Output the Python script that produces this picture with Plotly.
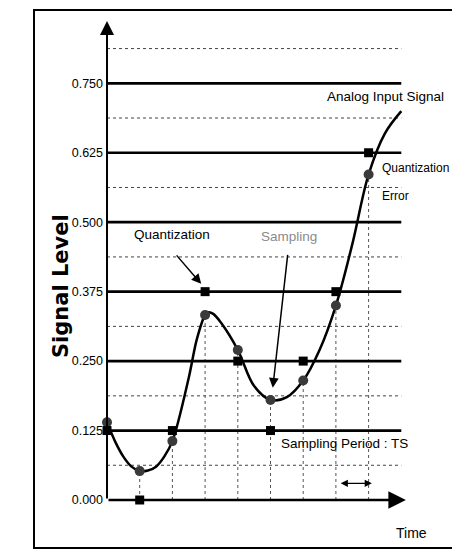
import plotly.graph_objects as go

# ---- data ----
curve_t = [0, 0.25, 0.5, 0.75, 1.0, 1.25, 1.5, 1.75, 2.0, 2.5, 2.75, 3.0, 3.1, 3.25, 3.5,
           4.0, 4.5, 5.0, 5.5, 6.0, 6.5, 7.0, 7.5, 8.0, 8.5, 9.0]
curve_v = [0.14, 0.105, 0.078, 0.06, 0.052, 0.053, 0.06, 0.078, 0.106, 0.22, 0.29, 0.333, 0.338,
           0.335, 0.318, 0.27, 0.205, 0.18, 0.185, 0.215, 0.27, 0.35, 0.46, 0.586, 0.66, 0.70]
sample_t = [0, 1, 2, 3, 4, 5, 6, 7, 8]
sample_v = [0.14, 0.052, 0.106, 0.333, 0.27, 0.18, 0.215, 0.35, 0.586]
quant_v = [0.125, 0.0, 0.125, 0.375, 0.25, 0.125, 0.25, 0.375, 0.625]
level_vals = [0.0, 0.125, 0.25, 0.375, 0.5, 0.625, 0.75]
level_text = ["0.000", "0.125", "0.250", "0.375", "0.500", "0.625", "0.750"]
half_levels = [0.0625, 0.1875, 0.3125, 0.4375, 0.5625, 0.6875, 0.8125]
line_end_t = 9.0
axis_end_t = 9.14
axis_top_v = 0.862

FONT = "Liberation Sans, Arial, sans-serif"

fig = go.Figure()

# dotted half-level lines
xs, ys = [], []
for v in half_levels:
    xs += [0, line_end_t, None]
    ys += [v, v, None]
fig.add_trace(go.Scatter(x=xs, y=ys, mode="lines", line=dict(color="#444", width=1, dash="dot"),
                         hoverinfo="skip", showlegend=False))

# dotted vertical sampling lines
xs, ys = [], []
for t, v in zip(sample_t[1:], sample_v[1:]):
    xs += [t, t, None]
    ys += [0, v, None]
fig.add_trace(go.Scatter(x=xs, y=ys, mode="lines", line=dict(color="#555", width=1, dash="dot"),
                         hoverinfo="skip", showlegend=False))

# solid quantization level lines
xs, ys = [], []
for v in level_vals[1:]:
    xs += [0, line_end_t, None]
    ys += [v, v, None]
fig.add_trace(go.Scatter(x=xs, y=ys, mode="lines", line=dict(color="black", width=2.7),
                         hoverinfo="skip", showlegend=False))

# analog signal
fig.add_trace(go.Scatter(x=curve_t, y=curve_v, mode="lines",
                         line=dict(color="black", width=2.5, shape="spline", smoothing=1.0),
                         showlegend=False, cliponaxis=False))

# samples
fig.add_trace(go.Scatter(x=sample_t, y=sample_v, mode="markers",
                         marker=dict(symbol="circle", size=10, color="#3a3a3a"),
                         showlegend=False, cliponaxis=False))
# quantized values
fig.add_trace(go.Scatter(x=sample_t, y=quant_v, mode="markers",
                         marker=dict(symbol="square", size=9, color="black"),
                         showlegend=False, cliponaxis=False))

# the page body adds an 8px offset, so the figure is 452x544
OFF = 8
FW, FH = 460 - OFF, 552 - OFF
L, R, T, B = 99, 13, 0, 2
W = FW - L - R
H = FH - T - B
PX_PER_T = 32.7
PX_PER_V = 555.6
zero_px = 492  # figure-pixel row of value 0
y_top = (zero_px - T) / PX_PER_V
y_bot = -(H - (zero_px - T)) / PX_PER_V


def px_x(p):
    return (p - OFF - L) / W


def px_y(p):
    return (H + T - (p - OFF)) / H


ann = []
# axes arrows
ann.append(dict(x=0, y=axis_top_v, ax=0, ay=0, xref="x", yref="y", axref="x", ayref="y",
                showarrow=True, text="", arrowhead=2, arrowsize=1.4, arrowwidth=2, arrowcolor="black"))
ann.append(dict(x=axis_end_t, y=0, ax=0, ay=0, xref="x", yref="y", axref="x", ayref="y",
                showarrow=True, text="", arrowhead=2, arrowsize=1.4, arrowwidth=2.5, arrowcolor="black"))
# Quantization arrow
ann.append(dict(x=2.88, y=0.389, ax=2.09, ay=0.443, xref="x", yref="y", axref="x", ayref="y",
                showarrow=True, text="", arrowhead=2, arrowsize=1.3, arrowwidth=1.5, arrowcolor="black"))
# Sampling arrow
ann.append(dict(x=5.07, y=0.202, ax=5.53, ay=0.444, xref="x", yref="y", axref="x", ayref="y",
                showarrow=True, text="", arrowhead=2, arrowsize=1.3, arrowwidth=1.5, arrowcolor="black"))
# sampling period double arrow
ann.append(dict(x=8.1, y=0.03, ax=7.1, ay=0.03, xref="x", yref="y", axref="x", ayref="y",
                showarrow=True, text="", arrowhead=2, arrowside="end+start", arrowsize=1.2,
                arrowwidth=1.2, arrowcolor="black"))


def txt(t, x, y, size=13, color="black", xanchor="center", family=FONT, angle=0, xref="x"):
    ann.append(dict(text=t, x=x, y=y, xref=xref, yref="y", showarrow=False, xanchor=xanchor,
                    yanchor="middle", textangle=angle, font=dict(family=family, size=size, color=color)))


txt("Analog Input Signal", 8.53, 0.727, size=13.5)
txt("Quantization", 8.35, 0.597, size=12, xanchor="left")
txt("Error", 8.35, 0.547, size=12, xanchor="left")
txt("Quantization", 1.99, 0.477, size=13.5)
txt("Sampling", 5.58, 0.475, size=13.5, color="#8a8a8a")
txt("Sampling Period : TS", 7.27, 0.101, size=13.5)
txt("Time", 9.3, -0.059, size=14)
txt("<b>Signal Level</b>", px_x(61), 0.385, size=21, family="DejaVu Sans, Verdana, sans-serif",
    angle=-90, xref="paper")

fig.update_layout(
    width=FW, height=FH,
    margin=dict(l=L, r=R, t=T, b=B, autoexpand=False),
    paper_bgcolor="white", plot_bgcolor="white",
    xaxis=dict(range=[0, W / PX_PER_T], visible=False, fixedrange=True),
    yaxis=dict(range=[y_bot, y_top], tickvals=level_vals, ticktext=level_text, showgrid=False,
               zeroline=False, showline=False, ticks="", ticklabelstandoff=3,
               tickfont=dict(family=FONT, size=12.5, color="black")),
    annotations=ann,
    shapes=[dict(type="rect", xref="paper", yref="paper",
                 x0=px_x(34), x1=px_x(456), y0=px_y(548), y1=px_y(10),
                 line=dict(color="black", width=2))],
)

fig.write_html("out.html")
